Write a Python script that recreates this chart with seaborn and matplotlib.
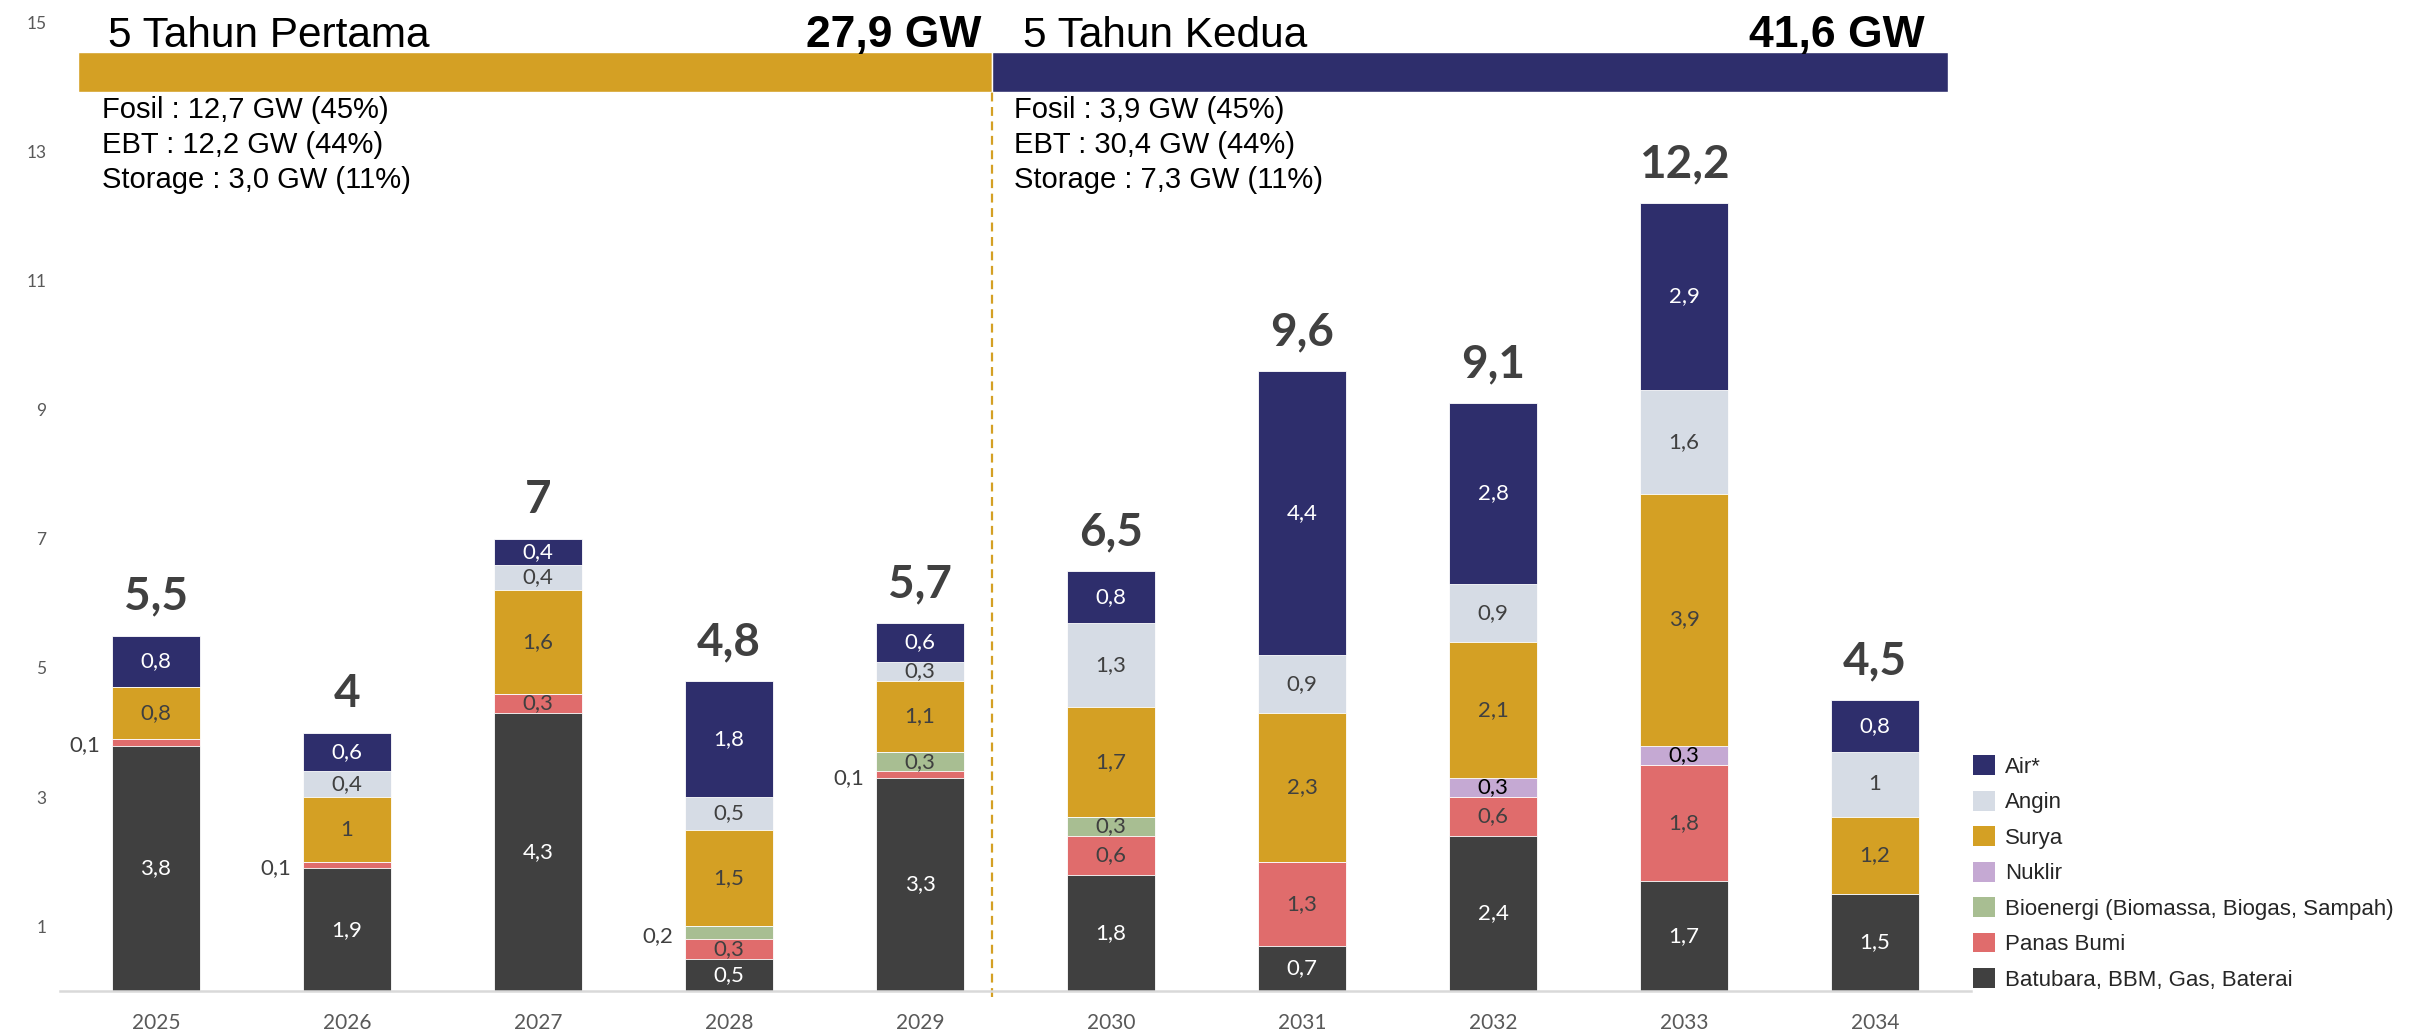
import numpy as np
import pandas as pd
import matplotlib
matplotlib.use("Agg")
import matplotlib.pyplot as plt
from matplotlib.patches import Patch
import seaborn as sns

# Data (GW per year)
YEARS = ["2025", "2026", "2027", "2028", "2029", "2030", "2031", "2032", "2033", "2034"]
BATUBARA = [3.8, 1.9, 4.3, 0.5, 3.3, 1.8, 0.7, 2.4, 1.7, 1.5]
PANAS_BUMI = [0.1, 0.1, 0.3, 0.3, 0.1, 0.6, 1.3, 0.6, 1.8, 0.0]
BIOENERGI = [0.0, 0.0, 0.0, 0.2, 0.3, 0.3, 0.0, 0.0, 0.0, 0.0]
NUKLIR = [0.0, 0.0, 0.0, 0.0, 0.0, 0.0, 0.0, 0.3, 0.3, 0.0]
SURYA = [0.8, 1.0, 1.6, 1.5, 1.1, 1.7, 2.3, 2.1, 3.9, 1.2]
ANGIN = [0.0, 0.4, 0.4, 0.5, 0.3, 1.3, 0.9, 0.9, 1.6, 1.0]
AIR = [0.8, 0.6, 0.4, 1.8, 0.6, 0.8, 4.4, 2.8, 2.9, 0.8]
TOTALS = ["5,5", "4", "7", "4,8", "5,7", "6,5", "9,6", "9,1", "12,2", "4,5"]

LEGEND_LABELS = ["Air*", "Angin", "Surya", "Nuklir",
                 "Bioenergi (Biomassa, Biogas, Sampah)", "Panas Bumi",
                 "Batubara, BBM, Gas, Baterai"]

PERIOD_TITLES = ["5 Tahun Pertama", "5 Tahun Kedua"]
PERIOD_TOTALS = ["27,9 GW", "41,6 GW"]
PERIOD_NOTES = [
    ["Fosil : 12,7 GW (45%)", "EBT : 12,2 GW (44%)", "Storage : 3,0 GW (11%)"],
    ["Fosil : 3,9 GW (45%)", "EBT : 30,4 GW (44%)", "Storage : 7,3 GW (11%)"],
]

# styling
NAVY = "#2E2E6C"
GOLD = "#D4A024"
DARK = "#404040"
COLORS = {
    "Batubara": DARK,
    "Panas Bumi": "#E06C6C",
    "Bioenergi": "#A8BE92",
    "Nuklir": "#C5A9D3",
    "Surya": GOLD,
    "Angin": "#D6DCE5",
    "Air": NAVY,
}
TEXT_COLORS = {
    "Batubara": "white",
    "Panas Bumi": DARK,
    "Bioenergi": DARK,
    "Nuklir": "black",
    "Surya": DARK,
    "Angin": DARK,
    "Air": "white",
}
BAR_WIDTH = 0.46
CALIBRI_LIKE = ["Lato", "DejaVu Sans"]
ARIAL_LIKE = ["Liberation Sans", "DejaVu Sans"]


def fmt(v):
    s = f"{v:.1f}".replace(".", ",")
    return s[:-2] if s.endswith(",0") else s


def main():
    sns.set_theme(style="white")
    plt.rcParams["font.family"] = CALIBRI_LIKE

    # bottom -> top stacking order
    stack = [("Batubara", BATUBARA), ("Panas Bumi", PANAS_BUMI),
             ("Bioenergi", BIOENERGI), ("Nuklir", NUKLIR),
             ("Surya", SURYA), ("Angin", ANGIN), ("Air", AIR)]
    values = np.array([s[1] for s in stack])
    cums = np.cumsum(values, axis=0)

    fig = plt.figure(figsize=(24.27, 10.33), dpi=100)
    ax = fig.add_axes([60.5 / 2427, 1 - 991 / 1033, 1910 / 2427, 969 / 1033])

    # draw cumulative bars from top layer down so lower layers overlay
    for k in range(len(stack) - 1, -1, -1):
        name = stack[k][0]
        df = pd.DataFrame({"year": YEARS, "val": cums[k]})
        sns.barplot(data=df, x="year", y="val", color=COLORS[name],
                    width=BAR_WIDTH, saturation=1, errorbar=None,
                    edgecolor="white", linewidth=0.6, ax=ax)

    # segment labels
    for i in range(len(YEARS)):
        for k, (name, vals) in enumerate(stack):
            v = vals[i]
            if v <= 0:
                continue
            bottom = cums[k][i] - v
            if v < 0.25:
                ax.text(i - BAR_WIDTH / 2 - 0.06, bottom + v / 2 - 0.05, fmt(v),
                        ha="right", va="center", fontsize=16, color=DARK)
            else:
                ax.text(i, bottom + v / 2, fmt(v), ha="center", va="center",
                        fontsize=16, color=TEXT_COLORS[name])
        ax.text(i, cums[-1][i] + 0.4, TOTALS[i], ha="center", va="baseline",
                fontsize=33, fontweight="bold", color=DARK)

    # period header bands
    split = 4.377
    ax.broken_barh([(-0.41, split + 0.41)], (13.92, 0.61), facecolors=GOLD)
    ax.broken_barh([(split, 9.38 - split)], (13.92, 0.61), facecolors=NAVY)
    ax.vlines(split, -0.1, 13.92, colors=GOLD, linestyles=(0, (4, 2.5)),
              linewidth=1.6, clip_on=False)

    title_x = [-0.25, 4.54]
    total_x = [4.32, 9.26]
    note_x = [-0.285, 4.49]
    for p in range(2):
        ax.text(title_x[p], 14.62, PERIOD_TITLES[p], ha="left", va="baseline",
                fontsize=30.5, color="black", family=ARIAL_LIKE, clip_on=False)
        ax.text(total_x[p], 14.62, PERIOD_TOTALS[p], ha="right", va="baseline",
                fontsize=32, fontweight="bold", color="black",
                family=ARIAL_LIKE, clip_on=False)
        for j, line in enumerate(PERIOD_NOTES[p]):
            ax.text(note_x[p], 13.64 - 0.54 * j, line, ha="left", va="center",
                    fontsize=21, color="black", family=ARIAL_LIKE)

    # axes
    ax.set_xlim(-0.5, 9.5)
    ax.set_ylim(0, 15)
    ax.set_yticks([1, 3, 5, 7, 9, 11, 13, 15])
    ax.tick_params(axis="y", length=0, pad=10, labelsize=12.5, labelcolor="#595959")
    ax.tick_params(axis="x", length=0, pad=16, labelsize=15, labelcolor="#595959")
    ax.set_xlabel("")
    ax.set_ylabel("")
    for side in ["top", "right", "left"]:
        ax.spines[side].set_visible(False)
    ax.spines["bottom"].set_color("#D9D9D9")
    ax.spines["bottom"].set_linewidth(1.8)
    ax.grid(False)

    # legend (top of stack first)
    order = ["Air", "Angin", "Surya", "Nuklir", "Bioenergi", "Panas Bumi", "Batubara"]
    handles = [Patch(facecolor=COLORS[n], edgecolor="none") for n in order]
    fig.legend(handles, LEGEND_LABELS, loc="center left",
               bbox_to_anchor=(1973 / 2427, 1 - 873 / 1033), frameon=False,
               prop={"family": ARIAL_LIKE, "size": 16}, handlelength=1.0,
               handleheight=1.0, handletextpad=0.45, labelspacing=0.58,
               borderpad=0, borderaxespad=0)

    fig.savefig("out.png", dpi=100, facecolor="white")


if __name__ == "__main__":
    main()
